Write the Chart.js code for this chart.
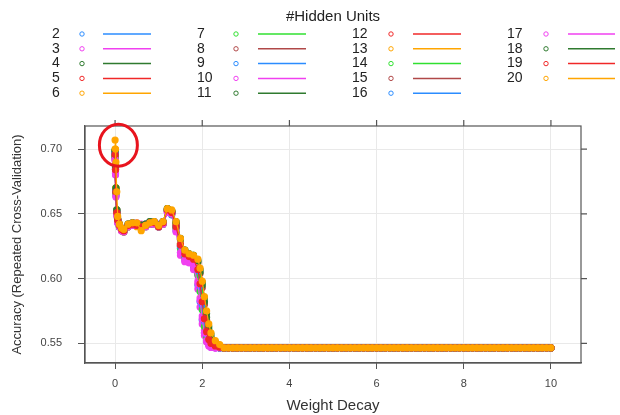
<!DOCTYPE html>
<html>
<head>
<meta charset="utf-8">
<title>Accuracy vs Weight Decay</title>
<script src="https://cdn.jsdelivr.net/npm/chart.js@4.4.1/dist/chart.umd.min.js"></script>
<style>
  html, body { margin: 0; padding: 0; background: #fff; }
  #wrap { width: 620px; height: 415px; }
</style>
</head>
<body>
<div id="wrap"><canvas id="decay-chart" width="620" height="415"></canvas></div>
<script>
// #Hidden Units (one series each)
var hiddenUnits = [2, 3, 4, 5, 6, 7, 8, 9, 10, 11, 12, 13, 14, 15, 16, 17, 18, 19, 20];

// weight decay values where accuracy changes
var decay = [0, 0.01, 0.02, 0.04, 0.06, 0.1, 0.15, 0.2, 0.3, 0.4, 0.5, 0.6, 0.7, 0.8, 0.9, 1.0, 1.1,
    1.2, 1.3, 1.4, 1.5, 1.6, 1.7, 1.8, 1.9, 1.95, 2.0, 2.05, 2.1, 2.15, 2.2, 2.3, 2.4, 2.5];

// flat part (every model at the no-information rate)
var plateauDecay = [2.6, 2.7, 2.8, 2.9, 3.0, 3.1, 3.2, 3.3, 3.4, 3.5, 3.6, 3.7, 3.8, 3.9, 4.0,
    4.1, 4.2, 4.3, 4.4, 4.5, 4.6, 4.7, 4.8, 4.9, 5.0, 5.1, 5.2, 5.3, 5.4, 5.5,
    5.6, 5.7, 5.8, 5.9, 6.0, 6.1, 6.2, 6.3, 6.4, 6.5, 6.6, 6.7, 6.8, 6.9, 7.0,
    7.1, 7.2, 7.3, 7.4, 7.5, 7.6, 7.7, 7.8, 7.9, 8.0, 8.1, 8.2, 8.3, 8.4, 8.5,
    8.6, 8.7, 8.8, 8.9, 9.0, 9.1, 9.2, 9.3, 9.4, 9.5, 9.6, 9.7, 9.8, 9.9, 10.0];
var plateauAcc = [0.5465, 0.5465, 0.5465, 0.5465, 0.5465, 0.5465, 0.5465, 0.5465, 0.5465, 0.5465, 0.5465, 0.5465, 0.5465, 0.5465, 0.5465,
    0.5465, 0.5465, 0.5465, 0.5465, 0.5465, 0.5465, 0.5465, 0.5465, 0.5465, 0.5465, 0.5465, 0.5465, 0.5465, 0.5465, 0.5465,
    0.5465, 0.5465, 0.5465, 0.5465, 0.5465, 0.5465, 0.5465, 0.5465, 0.5465, 0.5465, 0.5465, 0.5465, 0.5465, 0.5465, 0.5465,
    0.5465, 0.5465, 0.5465, 0.5465, 0.5465, 0.5465, 0.5465, 0.5465, 0.5465, 0.5465, 0.5465, 0.5465, 0.5465, 0.5465, 0.5465,
    0.5465, 0.5465, 0.5465, 0.5465, 0.5465, 0.5465, 0.5465, 0.5465, 0.5465, 0.5465, 0.5465, 0.5465, 0.5465, 0.5465, 0.5465];

// accuracy (repeated CV) per hidden unit size, matching decay[]
var acc2  = [0.694,0.681,0.664,0.649,0.643,0.640,0.639,0.638,0.642,0.643,0.642,0.641,0.642,0.644,0.642,0.641,0.644,0.652,0.649,0.637,0.620,0.615,0.613,0.609,0.595,0.582,0.568,0.558,0.552,0.549,0.547,0.5465,0.5465,0.5465];
var acc3  = [0.692,0.683,0.666,0.651,0.646,0.642,0.637,0.636,0.640,0.641,0.643,0.642,0.640,0.642,0.644,0.642,0.642,0.651,0.652,0.641,0.623,0.616,0.614,0.611,0.598,0.585,0.571,0.560,0.553,0.549,0.547,0.5465,0.5465,0.5465];
var acc4  = [0.698,0.686,0.669,0.653,0.644,0.640,0.638,0.638,0.641,0.642,0.641,0.641,0.641,0.643,0.643,0.640,0.643,0.654,0.652,0.642,0.627,0.620,0.618,0.617,0.609,0.598,0.585,0.571,0.560,0.554,0.550,0.548,0.547,0.5465];
var acc5  = [0.695,0.684,0.667,0.650,0.645,0.641,0.639,0.637,0.640,0.643,0.642,0.640,0.641,0.642,0.643,0.641,0.642,0.652,0.650,0.639,0.625,0.618,0.616,0.615,0.605,0.593,0.580,0.566,0.557,0.551,0.549,0.547,0.5465,0.5465];
var acc6  = [0.699,0.687,0.670,0.652,0.646,0.642,0.638,0.636,0.641,0.641,0.640,0.641,0.642,0.643,0.642,0.640,0.643,0.653,0.651,0.641,0.627,0.619,0.617,0.616,0.608,0.597,0.583,0.570,0.559,0.553,0.550,0.548,0.547,0.5465];
var acc7  = [0.696,0.682,0.665,0.651,0.644,0.641,0.638,0.637,0.641,0.642,0.641,0.640,0.641,0.643,0.643,0.641,0.643,0.653,0.651,0.640,0.623,0.617,0.616,0.614,0.604,0.592,0.578,0.565,0.556,0.551,0.548,0.547,0.5465,0.5465];
var acc8  = [0.693,0.684,0.667,0.652,0.645,0.640,0.637,0.636,0.640,0.642,0.642,0.641,0.640,0.642,0.643,0.640,0.642,0.652,0.652,0.643,0.630,0.621,0.618,0.617,0.612,0.604,0.593,0.580,0.568,0.559,0.554,0.550,0.548,0.5465];
var acc9  = [0.697,0.685,0.668,0.653,0.646,0.642,0.639,0.638,0.642,0.643,0.641,0.641,0.642,0.644,0.643,0.641,0.644,0.654,0.651,0.640,0.625,0.618,0.616,0.615,0.606,0.595,0.581,0.568,0.558,0.552,0.549,0.547,0.5465,0.5465];
var acc10 = [0.691,0.680,0.663,0.648,0.643,0.640,0.638,0.637,0.641,0.642,0.641,0.640,0.641,0.643,0.642,0.640,0.643,0.652,0.650,0.636,0.618,0.613,0.612,0.607,0.592,0.578,0.565,0.556,0.551,0.548,0.547,0.5465,0.5465,0.5465];
var acc11 = [0.698,0.686,0.669,0.652,0.645,0.641,0.638,0.637,0.641,0.642,0.642,0.641,0.641,0.643,0.643,0.641,0.643,0.653,0.652,0.643,0.630,0.622,0.619,0.618,0.613,0.605,0.595,0.582,0.570,0.561,0.555,0.550,0.548,0.5465];
var acc12 = [0.696,0.684,0.667,0.651,0.645,0.641,0.638,0.637,0.641,0.642,0.641,0.640,0.641,0.643,0.643,0.640,0.643,0.653,0.651,0.640,0.626,0.619,0.617,0.616,0.607,0.596,0.582,0.569,0.559,0.553,0.550,0.548,0.547,0.5465];
var acc13 = [0.700,0.688,0.670,0.653,0.646,0.642,0.639,0.637,0.642,0.642,0.641,0.640,0.641,0.644,0.643,0.641,0.644,0.654,0.652,0.641,0.627,0.620,0.618,0.617,0.609,0.599,0.586,0.572,0.561,0.554,0.550,0.548,0.547,0.5465];
var acc14 = [0.694,0.683,0.666,0.650,0.644,0.640,0.638,0.636,0.640,0.641,0.641,0.640,0.640,0.642,0.642,0.640,0.642,0.652,0.650,0.639,0.624,0.617,0.615,0.614,0.603,0.590,0.576,0.563,0.555,0.550,0.548,0.547,0.5465,0.5465];
var acc15 = [0.695,0.684,0.667,0.651,0.645,0.641,0.638,0.637,0.641,0.642,0.642,0.641,0.641,0.643,0.643,0.641,0.643,0.653,0.651,0.641,0.626,0.619,0.617,0.616,0.608,0.597,0.584,0.570,0.560,0.554,0.550,0.548,0.547,0.5465];
var acc16 = [0.697,0.685,0.668,0.652,0.645,0.641,0.638,0.637,0.641,0.642,0.641,0.640,0.641,0.643,0.643,0.640,0.643,0.653,0.651,0.640,0.625,0.618,0.616,0.615,0.606,0.594,0.580,0.567,0.557,0.552,0.549,0.547,0.5465,0.5465];
var acc17 = [0.692,0.681,0.664,0.649,0.643,0.640,0.637,0.636,0.640,0.641,0.641,0.640,0.640,0.642,0.642,0.640,0.642,0.651,0.650,0.637,0.620,0.614,0.613,0.610,0.596,0.583,0.569,0.558,0.552,0.549,0.547,0.5465,0.5465,0.5465];
var acc18 = [0.699,0.687,0.670,0.653,0.646,0.642,0.639,0.638,0.642,0.643,0.642,0.641,0.642,0.644,0.644,0.641,0.644,0.654,0.652,0.644,0.631,0.622,0.619,0.618,0.614,0.607,0.597,0.585,0.573,0.563,0.557,0.551,0.548,0.5465];
var acc19 = [0.696,0.684,0.667,0.651,0.645,0.641,0.638,0.637,0.641,0.642,0.641,0.640,0.641,0.643,0.643,0.640,0.643,0.653,0.651,0.640,0.626,0.619,0.617,0.615,0.607,0.596,0.582,0.569,0.559,0.553,0.550,0.548,0.547,0.5465];
var acc20 = [0.707,0.700,0.690,0.667,0.648,0.642,0.639,0.638,0.642,0.643,0.643,0.637,0.641,0.643,0.644,0.641,0.644,0.654,0.653,0.644,0.631,0.622,0.619,0.618,0.615,0.608,0.598,0.586,0.575,0.565,0.558,0.552,0.549,0.5465];

var xTicks = [0, 2, 4, 6, 8, 10];
var yTicks = [0.55, 0.60, 0.65, 0.70];

// lattice superpose colours (cycle of 7)
var latticeColors = ['#2b8cff', '#f040f0', '#2f7a2f', '#f02828', '#ffa500', '#30e030', '#b04848'];

var accBySeries = [acc2, acc3, acc4, acc5, acc6, acc7, acc8, acc9, acc10, acc11,
    acc12, acc13, acc14, acc15, acc16, acc17, acc18, acc19, acc20];

var FONT = 'Liberation Sans, Arial, Helvetica, sans-serif';
var FRAME = '#555555';

var allDecay = decay.concat(plateauDecay);
var datasets = hiddenUnits.map(function (h, i) {
    var ys = accBySeries[i].concat(plateauAcc);
    var col = latticeColors[i % latticeColors.length];
    return {
        label: String(h),
        data: allDecay.map(function (x, j) { return { x: x, y: ys[j] }; }),
        borderColor: col,
        backgroundColor: col,
        pointBackgroundColor: col,
        pointBorderColor: col,
        pointRadius: 3,
        pointBorderWidth: 1.2,
        borderWidth: 1.2,
        showLine: true,
        order: hiddenUnits.length - i // last series drawn on top
    };
});

// legend in 4 columns x 5 rows, like lattice's auto.key
var latticeKey = {
    id: 'latticeKey',
    afterDraw: function (chart) {
        var ctx = chart.ctx;
        var textX = [52, 197, 352, 507];
        var markX = [82, 236, 391, 546];
        var lineX = [[103, 151], [258, 306], [413, 461], [568, 615]];
        ctx.save();
        ctx.fillStyle = '#222';
        ctx.font = '15px ' + FONT;
        ctx.textAlign = 'center';
        ctx.textBaseline = 'middle';
        ctx.fillText('#Hidden Units', 333, 17);
        ctx.font = '14px ' + FONT;
        ctx.textAlign = 'left';
        chart.data.datasets.forEach(function (ds, i) {
            var c = Math.floor(i / 5), r = i % 5;
            var y = 34 + r * 14.8;
            ctx.fillStyle = '#222';
            ctx.fillText(ds.label, textX[c], y);
            ctx.strokeStyle = ds.borderColor;
            ctx.lineWidth = 1;
            ctx.beginPath();
            ctx.arc(markX[c], y, 2.2, 0, Math.PI * 2);
            ctx.stroke();
            ctx.lineWidth = 1.5;
            ctx.beginPath();
            ctx.moveTo(lineX[c][0], y);
            ctx.lineTo(lineX[c][1], y);
            ctx.stroke();
        });
        ctx.restore();
    }
};

// box round the panel, with tick marks on top and right too
var panelFrame = {
    id: 'panelFrame',
    afterDatasetsDraw: function (chart) {
        var ctx = chart.ctx, a = chart.chartArea;
        var xs = chart.scales.x, ys = chart.scales.y;
        ctx.save();
        ctx.strokeStyle = FRAME;
        ctx.lineWidth = 1.2;
        ctx.strokeRect(a.left, a.top, a.right - a.left, a.bottom - a.top);
        ctx.beginPath();
        xTicks.forEach(function (v) {
            var px = xs.getPixelForValue(v);
            ctx.moveTo(px, a.top);
            ctx.lineTo(px, a.top - 6);
        });
        yTicks.forEach(function (v) {
            var py = ys.getPixelForValue(v);
            ctx.moveTo(a.right, py);
            ctx.lineTo(a.right + 6, py);
        });
        ctx.stroke();

        // red circle marking the best accuracy
        var cx = xs.getPixelForValue(0.076), cy = ys.getPixelForValue(0.703);
        ctx.strokeStyle = '#e8141e';
        ctx.lineWidth = 3;
        ctx.beginPath();
        ctx.ellipse(cx, cy, 19, 21, 0, 0, Math.PI * 2);
        ctx.stroke();
        ctx.restore();
    }
};

document.addEventListener('DOMContentLoaded', function () {
    var ctx = document.getElementById('decay-chart').getContext('2d');
    var decayChart = new Chart(ctx, {
        type: 'scatter',
        data: { datasets: datasets },
        plugins: [latticeKey, panelFrame],
        options: {
            responsive: false,
            animation: false,
            layout: { padding: { top: 126, right: 39, left: 0, bottom: 0 } },
            plugins: {
                legend: { display: false },
                tooltip: { enabled: false }
            },
            scales: {
                x: {
                    type: 'linear',
                    min: -0.69,
                    max: 10.69,
                    afterBuildTicks: function (scale) {
                        scale.ticks = xTicks.map(function (v) { return { value: v }; });
                    },
                    afterFit: function (scale) { scale.height = 52; },
                    grid: { color: '#e9e9e9', tickColor: FRAME, tickLength: 6, lineWidth: 1 },
                    border: { display: true, color: FRAME, width: 1.2 },
                    ticks: { color: '#444', font: { family: FONT, size: 11 }, padding: 8, maxRotation: 0 },
                    title: {
                        display: true, text: 'Weight Decay', color: '#333',
                        font: { family: FONT, size: 15 }, padding: { top: 6, bottom: 0 }
                    }
                },
                y: {
                    type: 'linear',
                    min: 0.5348,
                    max: 0.7178,
                    afterBuildTicks: function (scale) {
                        scale.ticks = yTicks.map(function (v) { return { value: v }; });
                    },
                    afterFit: function (scale) { scale.width = 85; },
                    grid: { color: '#e9e9e9', tickColor: FRAME, tickLength: 7, lineWidth: 1 },
                    border: { display: true, color: FRAME, width: 1.2 },
                    ticks: {
                        color: '#444', font: { family: FONT, size: 11 }, padding: 16,
                        callback: function (v) { return v.toFixed(2); }
                    },
                    title: {
                        display: true, text: 'Accuracy (Repeated Cross-Validation)', color: '#333',
                        font: { family: FONT, size: 13 }, padding: { top: 10, bottom: 0 }
                    }
                }
            }
        }
    });
});
</script>
</body>
</html>
